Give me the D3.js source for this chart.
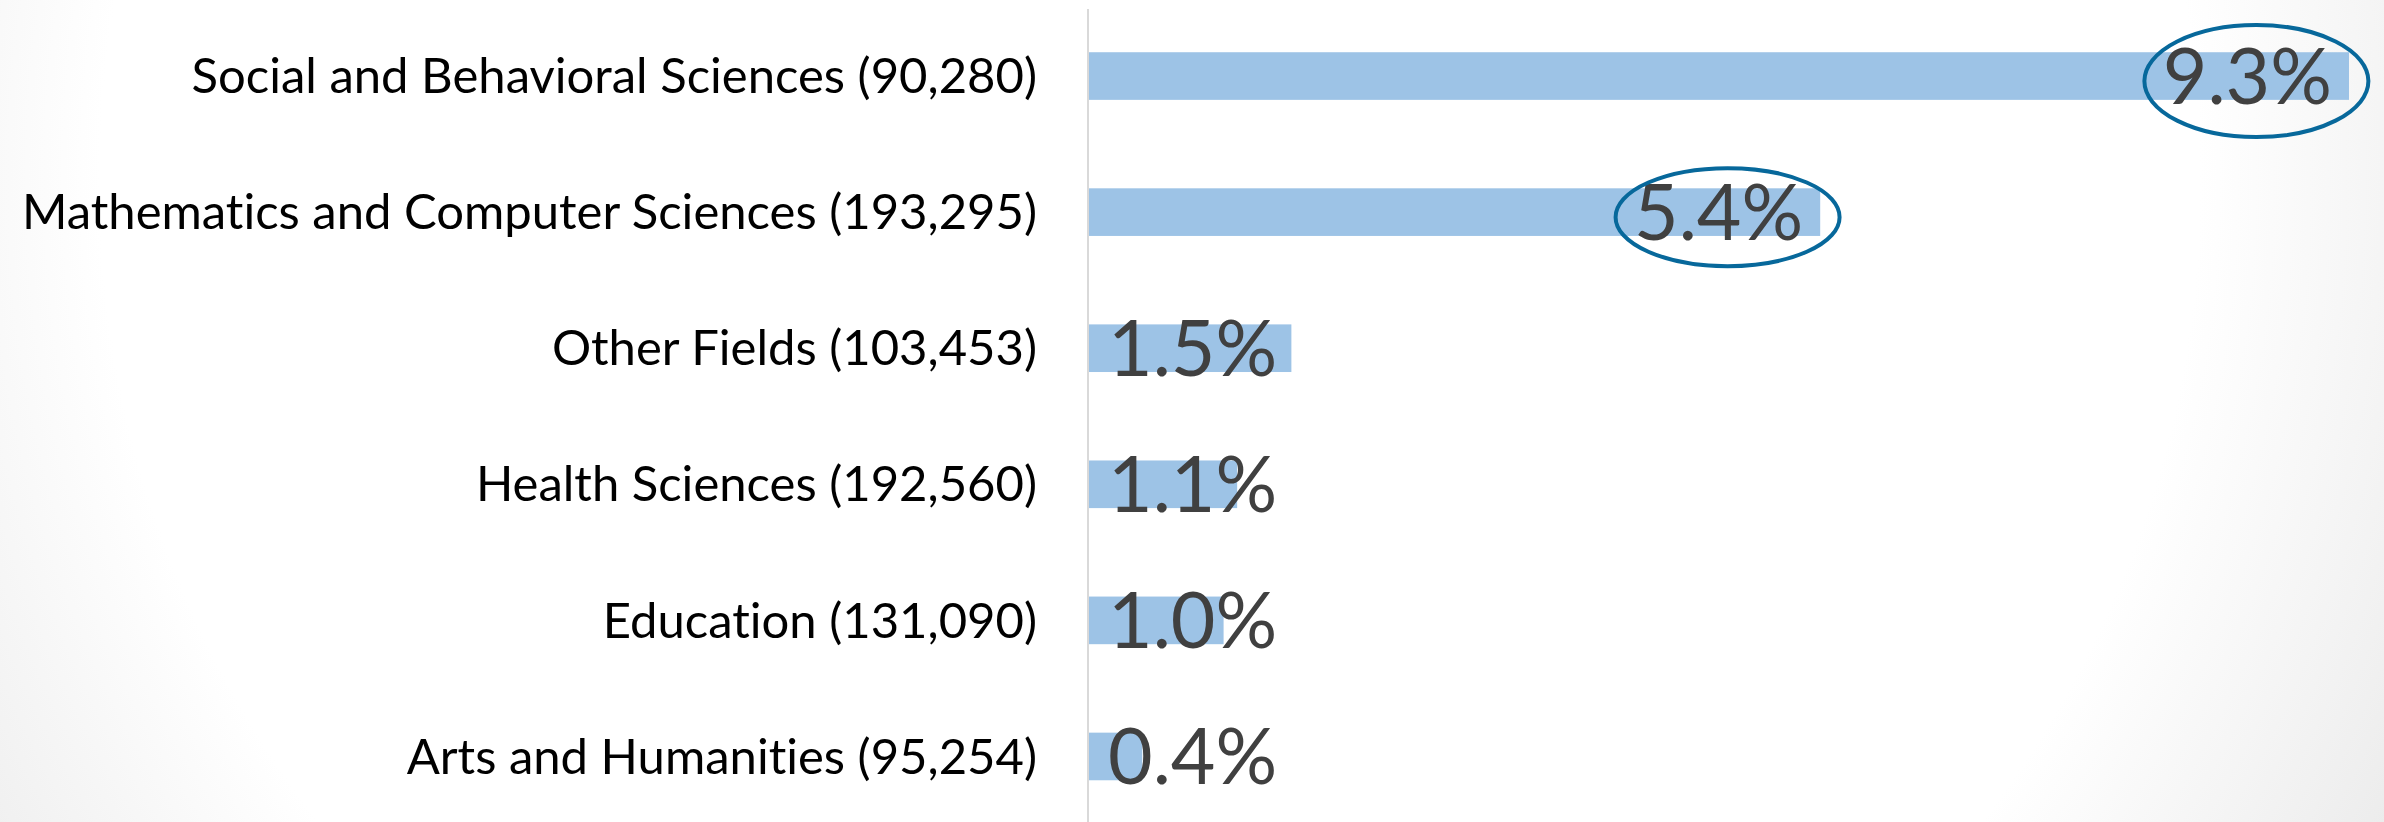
<!DOCTYPE html>
<html>
<head>
<meta charset="utf-8">
<script src="https://cdn.jsdelivr.net/npm/d3@7"></script>
<style>
  html, body { margin: 0; padding: 0; background: #fff; overflow: hidden; }
  #chart text { font-family: Lato, "Open Sans", sans-serif; font-variant-ligatures: none; }
</style>
</head>
<body>
<div id="chart"></div>
<script>
// Chart data
var categories = [
  "Social and Behavioral Sciences (90,280)",
  "Mathematics and Computer Sciences (193,295)",
  "Other Fields (103,453)",
  "Health Sciences (192,560)",
  "Education (131,090)",
  "Arts and Humanities (95,254)"
];
var values = [9.3, 5.4, 1.5, 1.1, 1.0, 0.4];
// categories that get a circle round their label
var circled = [
  "Social and Behavioral Sciences (90,280)",
  "Mathematics and Computer Sciences (193,295)"
];

// Size of page
var width = 2384;
var height = 822;

var axis_x = 1088;

var svg = d3.select("#chart")
  .append("svg")
  .attr("width", width)
  .attr("height", height);

// slide background (white with grey vignette at the edges)
var defs = svg.append("defs");
var grad = defs.append("radialGradient")
  .attr("id", "bg")
  .attr("gradientUnits", "userSpaceOnUse")
  .attr("cx", 1150)
  .attr("cy", 180)
  .attr("r", 1500);
grad.append("stop").attr("offset", "0.7").attr("stop-color", "#ffffff");
grad.append("stop").attr("offset", "0.93").attr("stop-color", "#ececec");
grad.append("stop").attr("offset", "1").attr("stop-color", "#e6e6e6");

svg.append("rect")
  .attr("width", width)
  .attr("height", height)
  .attr("fill", "url(#bg)");

// scales
var x_scale = d3.scaleLinear()
  .domain([0, 9.3])
  .range([axis_x, 2349]);

var y_scale = d3.scaleBand()
  .domain(categories)
  .range([8, 824.5])
  .paddingInner(0.65)
  .paddingOuter(0.325);

var data = categories.map(function(c, i) {
  return { cat: c, value: values[i] };
});

// bars
svg.selectAll(".bar")
  .data(data)
  .enter()
  .append("rect")
  .attr("class", "bar")
  .attr("x", x_scale(0))
  .attr("y", function(d) { return y_scale(d.cat); })
  .attr("width", function(d) { return x_scale(d.value) - x_scale(0); })
  .attr("height", y_scale.bandwidth())
  .attr("fill", "#9dc3e6");

// y axis (category labels + vertical line)
var yaxis = d3.axisLeft(y_scale)
  .tickSize(0)
  .tickSizeOuter(0)
  .tickPadding(51);

var gy = svg.append("g")
  .attr("class", "y axis")
  .attr("transform", "translate(" + axis_x + ",0)")
  .call(yaxis);

gy.select(".domain")
  .attr("stroke", "#d9d9d9")
  .attr("stroke-width", 2)
  .attr("d", "M0," + 9 + "V" + height);

gy.selectAll(".tick text")
  .attr("dy", "0.35em")
  .style("font-size", "49px")
  .attr("fill", "#000");

// value labels (inside end, but not closer to the axis than 20px)
var labels = svg.selectAll(".value")
  .data(data)
  .enter()
  .append("text")
  .attr("class", "value")
  .attr("y", function(d) { return y_scale(d.cat) + y_scale.bandwidth() / 2; })
  .attr("dy", "0.36em")
  .attr("text-anchor", "end")
  .style("font-size", "77px")
  .attr("fill", "#404040")
  .text(function(d) { return d3.format(".1f")(d.value) + "%"; });

labels.each(function(d) {
  var w = this.getComputedTextLength();
  var right = Math.max(x_scale(d.value) - 17, x_scale(0) + 20 + w);
  d.label_right = right;
  d.label_w = w;
  d3.select(this).attr("x", right);
});

// circles round the highlighted labels
var ellipse_ry = [56, 49];
svg.selectAll(".circled")
  .data(data.filter(function(d) { return circled.indexOf(d.cat) >= 0; }))
  .enter()
  .append("ellipse")
  .attr("class", "circled")
  .attr("cx", function(d) { return d.label_right - d.label_w / 2 + 9; })
  .attr("cy", function(d) { return y_scale(d.cat) + y_scale.bandwidth() / 2 + 5; })
  .attr("rx", 112)
  .attr("ry", function(d, i) { return ellipse_ry[i]; })
  .attr("fill", "none")
  .attr("stroke", "#07689b")
  .attr("stroke-width", 4);
</script>
</body>
</html>
